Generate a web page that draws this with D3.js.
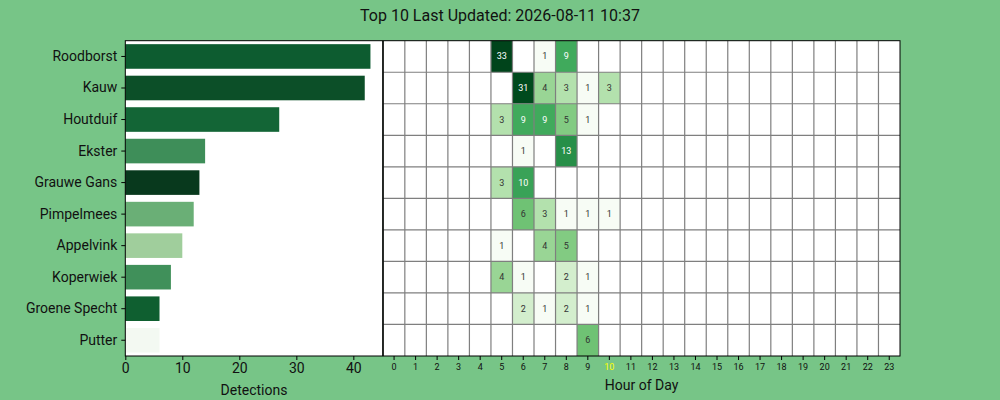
<!DOCTYPE html>
<html><head><meta charset="utf-8">
<script src="https://cdn.jsdelivr.net/npm/d3@7"></script>
<style>body{margin:0;background:#77c587;} svg{display:block;font-family:Roboto,"DejaVu Sans",sans-serif;}</style>
</head><body>
<svg id="c" width="1000" height="400"></svg>
<script>
const titleText = "Top 10 Last Updated: 2026-08-11 10:37";
const species = ["Roodborst","Kauw","Houtduif","Ekster","Grauwe Gans","Pimpelmees","Appelvink","Koperwiek","Groene Specht","Putter"];
const totals = [43,42,27,14,13,12,10,8,6,6];
const barColors = ["#0d5c30","#0c4f28","#136536","#3e8e59","#08391d","#6aaf76","#a0ce9c","#40905a","#0f5f30","#f3f9f2"];
const hours = d3.range(24);
const currentHour = 10;
const detectionTicks = [0,10,20,30,40];
// hourly counts per species: [hour, count]
const hourly = [
  [[5,33],[7,1],[8,9]],
  [[6,31],[7,4],[8,3],[9,1],[10,3]],
  [[5,3],[6,9],[7,9],[8,5],[9,1]],
  [[6,1],[8,13]],
  [[5,3],[6,10]],
  [[6,6],[7,3],[8,1],[9,1],[10,1]],
  [[5,1],[7,4],[8,5]],
  [[5,4],[6,1],[8,2],[9,1]],
  [[6,2],[7,1],[8,2],[9,1]],
  [[9,6]]
];
const greens = ["#f7fcf5","#e5f5e0","#c7e9c0","#a1d99b","#74c476","#41ab5d","#238b45","#006d2c","#00441b"];

const svg = d3.select("#c");
svg.append("text").attr("x",500).attr("y",21).attr("text-anchor","middle")
  .attr("font-size",16).attr("fill","#111").text(titleText);

// ---- Bar chart ----
const bL=125.3, bR=382.7, pTop=40.7, pBot=356;
const xb = d3.scaleLinear().domain([0, d3.max(totals)*1.05]).range([bL,bR]);
const yb = d3.scaleBand().domain(species).range([pTop,pBot]).paddingInner(0.22).paddingOuter(0.11);
svg.append("rect").attr("x",bL).attr("y",pTop).attr("width",bR-bL).attr("height",pBot-pTop).attr("fill","#fff");
svg.append("g").selectAll("rect").data(species).join("rect")
  .attr("x",xb(0)).attr("y",d=>yb(d)).attr("height",yb.bandwidth())
  .attr("width",(d,i)=>xb(totals[i])-xb(0)).attr("fill",(d,i)=>barColors[i]);
svg.append("rect").attr("x",bL).attr("y",pTop).attr("width",bR-bL).attr("height",pBot-pTop)
  .attr("fill","none").attr("stroke","#000").attr("stroke-width",1);
const yAx = svg.append("g").attr("transform",`translate(${bL},0)`).call(d3.axisLeft(yb).tickSize(4).tickPadding(4));
yAx.select(".domain").remove();
yAx.selectAll("text").attr("font-size",14).attr("fill","#111").attr("font-family","Roboto,sans-serif");
const xAx = svg.append("g").attr("transform",`translate(0,${pBot})`).call(d3.axisBottom(xb).tickValues(detectionTicks).tickSize(4).tickPadding(3.5));
xAx.select(".domain").remove();
xAx.selectAll("text").attr("font-size",14).attr("fill","#111").attr("font-family","Roboto,sans-serif");
svg.append("text").attr("x",(bL+bR)/2).attr("y",395).attr("text-anchor","middle").attr("font-size",14).attr("fill","#111").text("Detections");

// ---- Heatmap ----
const hL=383.3, hR=900;
const xh = d3.scaleBand().domain(hours).range([hL,hR]);
const yh = d3.scaleBand().domain(species).range([pTop,pBot]);
const maxC = d3.max(hourly.flat(), d=>d[1]);
const tScale = d3.scaleLog().domain([1,maxC]).range([0,1]).clamp(true);
const cmap = d3.scaleLinear().domain(d3.range(9).map(i=>i/8)).range(greens).interpolate(d3.interpolateRgb);
svg.append("rect").attr("x",hL).attr("y",pTop).attr("width",hR-hL).attr("height",pBot-pTop).attr("fill","#fff");
const cells = [];
species.forEach((s,i)=>hourly[i].forEach(([h,c])=>cells.push({s,h,c})));
svg.append("g").selectAll("rect").data(cells).join("rect")
  .attr("x",d=>xh(d.h)).attr("y",d=>yh(d.s)).attr("width",xh.bandwidth()).attr("height",yh.bandwidth())
  .attr("fill",d=>cmap(tScale(d.c)));
// grid
const grid = svg.append("g").attr("stroke","#7f7f7f").attr("stroke-width",1.2);
hours.slice(1).forEach(h=>grid.append("line").attr("x1",xh(h)).attr("x2",xh(h)).attr("y1",pTop).attr("y2",pBot));
species.slice(1).forEach(s=>grid.append("line").attr("x1",hL).attr("x2",hR).attr("y1",yh(s)).attr("y2",yh(s)));
svg.append("g").selectAll("text").data(cells).join("text")
  .attr("x",d=>xh(d.h)+xh.bandwidth()/2).attr("y",d=>yh(d.s)+yh.bandwidth()/2)
  .attr("text-anchor","middle").attr("dominant-baseline","central").attr("font-size",9)
  .attr("fill",d=>tScale(d.c)>0.56?"#fff":"#333").text(d=>d.c);
svg.append("rect").attr("x",hL).attr("y",pTop).attr("width",hR-hL).attr("height",pBot-pTop)
  .attr("fill","none").attr("stroke","#000").attr("stroke-width",1);
const hAx = svg.append("g").attr("transform",`translate(0,${pBot})`).call(d3.axisBottom(xh).tickSize(4).tickPadding(4));
hAx.select(".domain").remove();
hAx.selectAll("text").attr("font-size",9).attr("font-family","Roboto,sans-serif")
  .attr("fill",d=>d===currentHour?"#ffff00":"#111");
svg.append("text").attr("x",(hL+hR)/2).attr("y",390).attr("text-anchor","middle").attr("font-size",14).attr("fill","#111").text("Hour of Day");
</script>
</body></html>
